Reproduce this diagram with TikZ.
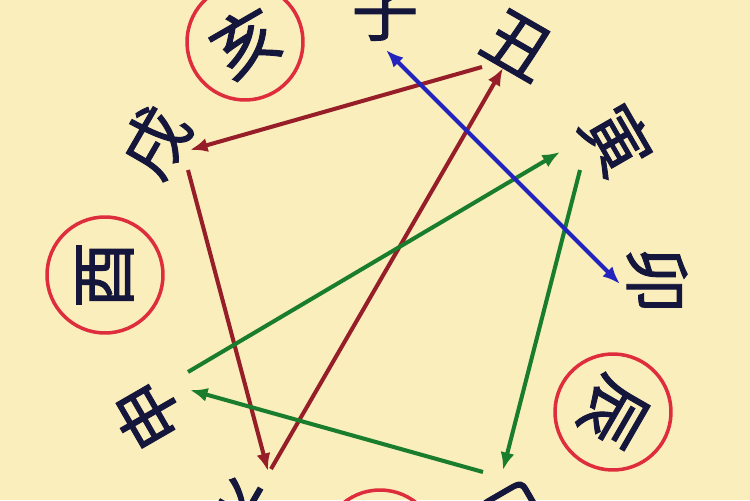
\documentclass[tikz,border=0pt]{standalone}
\usepackage{fontspec}
\newfontfamily\cjk[FakeBold=1.4]{Noto Sans CJK SC}
\usetikzlibrary{arrows.meta,calc}
\definecolor{Y}{RGB}{250,238,188}
\definecolor{N}{RGB}{20,22,60}
\definecolor{C}{RGB}{222,45,60}
\definecolor{R}{RGB}{150,30,40}
\definecolor{G}{RGB}{25,125,45}
\definecolor{B}{RGB}{35,35,190}
\tikzset{
  branch/.style={text=N, font=\cjk\fontsize{38}{38}\selectfont, inner sep=0pt},
  ring/.style={branch, circle, draw=C, line width=2pt, minimum size=2.32cm},
  con/.style={line width=2.3pt, -{Latex[length=10pt,width=8pt]}},
  twocon/.style={line width=2.3pt, {Latex[length=10pt,width=8pt]}-{Latex[length=10pt,width=8pt]}}
}
\begin{document}
\begin{tikzpicture}[x=0.02cm,y=-0.02cm]
  %# FONDO
  \useasboundingbox (0,0) rectangle (750,500);
  \clip (0,0) rectangle (750,500);
  \fill[Y] (0,0) rectangle (750,500);

  %# RAMAS
  \node[branch] (zi) at (385,12) {子};
  \node[branch, rotate=-30] (chou) at (518,45) {丑};
  \node[branch, rotate=-60] (yin) at (617,140) {寅};
  \node[branch, rotate=-90] (mao) at (657,280) {卯};
  \node[ring, rotate=-120] (chen) at (613,412) {辰};
  \node[branch, rotate=-150] (si) at (515,515) {巳};
  \node[ring, rotate=180] (wu) at (380,548) {午};
  \node[branch, rotate=150] (wei) at (245,515) {未};
  \node[branch, rotate=120] (shen) at (148,415) {申};
  \node[ring, rotate=90] (you) at (105,275) {酉};
  \node[branch, rotate=60] (xu) at (155,142) {戌};
  \node[ring, rotate=30] (hai) at (245,42) {亥};

  %# TRIANGULO ROJO
  \draw[con, R] ($(chou)+(-36,22)$) -- ($(xu)+(35,8)$);
  \draw[con, R] ($(xu)+(33,28)$) -- ($(wei)+(23,-44)$);
  \draw[con, R] ($(wei)+(26,-46)$) -- ($(chou)+(-15,23)$);

  %# TRIANGULO VERDE
  \draw[con, G] ($(shen)+(40,-43)$) -- ($(yin)+(-57,12)$);
  \draw[con, G] ($(yin)+(-37,30)$) -- ($(si)+(-12,-45)$);
  \draw[con, G] ($(si)+(-32,-43)$) -- ($(shen)+(42,-25)$);

  %# AZUL
  \draw[twocon, B] ($(zi)+(1,38)$) -- ($(mao)+(-37,4)$);
\end{tikzpicture}
\end{document}
